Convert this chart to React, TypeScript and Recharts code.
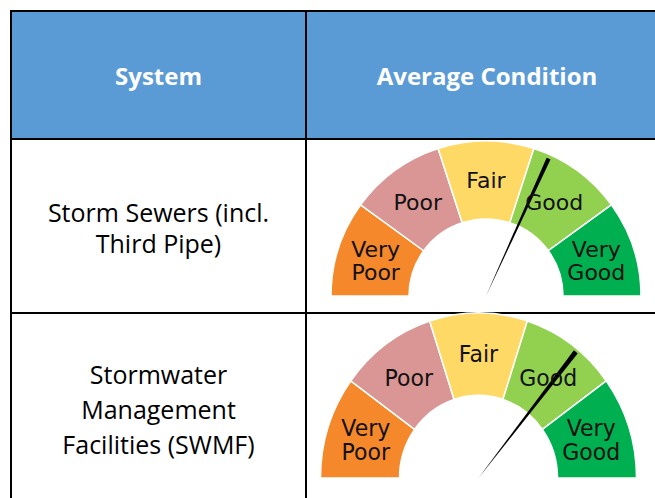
import { PieChart, Pie, Cell } from 'recharts';

const headers = ['System', 'Average Condition'];
const systemLines = [
  ['Storm Sewers (incl.', 'Third Pipe)'],
  ['Stormwater', 'Management', 'Facilities (SWMF)'],
];
const conditionLevels = ['Very Poor', 'Poor', 'Fair', 'Good', 'Very Good'];
const levelSpans = [1, 1, 1, 1, 1];
const averageScores = [3.18, 3.58];

const COLORS = ['#F5882A', '#D99694', '#FFD966', '#92D050', '#00B050'];
const LINE = '#000';
const HEADER_BG = '#5B9BD5';
const RADIAN = Math.PI / 180;

const segments = conditionLevels.map((name, i) => ({ name, span: levelSpans[i] }));
const total = levelSpans.reduce((a, b) => a + b, 0);

function Gauge({
  score,
  width,
  height,
  cx,
  cy,
  inner,
  outer,
  needleR,
  needleW,
  lineGap,
}: {
  score: number;
  width: number;
  height: number;
  cx: number;
  cy: number;
  inner: number;
  outer: number;
  needleR: number;
  needleW: number;
  lineGap: number;
}) {
  // needle = thin wedge slice centred on the score
  const needle = [
    { v: score - needleW / 2 },
    { v: needleW },
    { v: total - score - needleW / 2 },
  ];

  const renderLabel = (p: any) => {
    const r = (p.innerRadius + p.outerRadius) / 2;
    const x = p.cx + r * Math.cos(-p.midAngle * RADIAN);
    const y = p.cy + r * Math.sin(-p.midAngle * RADIAN);
    const words = conditionLevels[p.index].split(' ');
    const start = y - ((words.length - 1) * lineGap) / 2;
    return (
      <text
        x={x}
        y={y}
        textAnchor="middle"
        fill="#111"
        fontSize={22}
        fontFamily="'DejaVu Sans', sans-serif"
      >
        {words.map((w, i) => (
          <tspan key={w} x={x} y={start + i * lineGap} dy="0.36em">
            {w}
          </tspan>
        ))}
      </text>
    );
  };

  return (
    <PieChart width={width} height={height} margin={{ top: 0, right: 0, bottom: 0, left: 0 }}>
      <Pie
        data={segments}
        dataKey="span"
        cx={cx}
        cy={cy}
        startAngle={180}
        endAngle={0}
        innerRadius={inner}
        outerRadius={outer}
        stroke="#fff"
        strokeWidth={1.5}
        label={renderLabel}
        labelLine={false}
        isAnimationActive={false}
      >
        {segments.map((s, i) => (
          <Cell key={s.name} fill={COLORS[i]} />
        ))}
      </Pie>
      <Pie
        data={needle}
        dataKey="v"
        cx={cx}
        cy={cy}
        startAngle={180}
        endAngle={0}
        innerRadius={0}
        outerRadius={needleR}
        stroke="none"
        isAnimationActive={false}
      >
        {needle.map((_, i) => (
          <Cell key={i} fill={i === 1 ? '#000' : 'none'} />
        ))}
      </Pie>
    </PieChart>
  );
}

const textStyle = {
  position: 'absolute' as const,
  left: 12,
  width: 293,
  textAlign: 'center' as const,
  fontFamily: "'Open Sans', sans-serif",
  fontSize: 25,
  color: '#000',
  whiteSpace: 'nowrap' as const,
};

export default function App() {
  return (
    <div
      style={{
        position: 'absolute',
        left: 0,
        top: 0,
        width: 655,
        height: 498,
        overflow: 'hidden',
        background: '#fff',
      }}
    >
      {/* header fill */}
      <div style={{ position: 'absolute', left: 12, top: 12, width: 643, height: 126, background: HEADER_BG }} />
      {headers.map((h, i) => (
        <div
          key={h}
          style={{
            position: 'absolute',
            left: i === 0 ? 12 : 307,
            width: i === 0 ? 293 : 360,
            top: 58,
            lineHeight: '36px',
            textAlign: 'center',
            fontFamily: "'Open Sans', sans-serif",
            fontWeight: 700,
            fontSize: 24,
            color: '#fff',
          }}
        >
          {h}
        </div>
      ))}

      {/* grid lines */}
      <div style={{ position: 'absolute', left: 10, top: 10, width: 645, height: 2, background: LINE }} />
      <div style={{ position: 'absolute', left: 10, top: 10, width: 2, height: 488, background: LINE }} />
      <div style={{ position: 'absolute', left: 305, top: 10, width: 2, height: 488, background: LINE }} />
      <div style={{ position: 'absolute', left: 10, top: 138, width: 645, height: 2, background: LINE }} />
      <div style={{ position: 'absolute', left: 10, top: 312, width: 645, height: 2, background: LINE }} />

      {/* system names */}
      {systemLines[0].map((t, i) => (
        <div key={t} style={{ ...textStyle, top: 195 + i * 31, lineHeight: '34px' }}>
          {t}
        </div>
      ))}
      {systemLines[1].map((t, i) => (
        <div key={t} style={{ ...textStyle, top: 357 + i * 35, lineHeight: '34px' }}>
          {t}
        </div>
      ))}

      {/* gauges */}
      <div style={{ position: 'absolute', left: 307, top: 140 }}>
        <Gauge
          score={averageScores[0]}
          width={348}
          height={172}
          cx={179}
          cy={156}
          inner={77}
          outer={155}
          needleR={151}
          needleW={0.045}
          lineGap={23}
        />
      </div>
      <div
        style={{
          position: 'absolute',
          left: 307,
          top: 314,
          transform: 'scaleY(1.045)',
          transformOrigin: '0px 164px',
        }}
      >
        <Gauge
          score={averageScores[1]}
          width={348}
          height={184}
          cx={171.5}
          cy={164}
          inner={79}
          outer={158}
          needleR={155}
          needleW={0.05}
          lineGap={23}
        />
      </div>
    </div>
  );
}
